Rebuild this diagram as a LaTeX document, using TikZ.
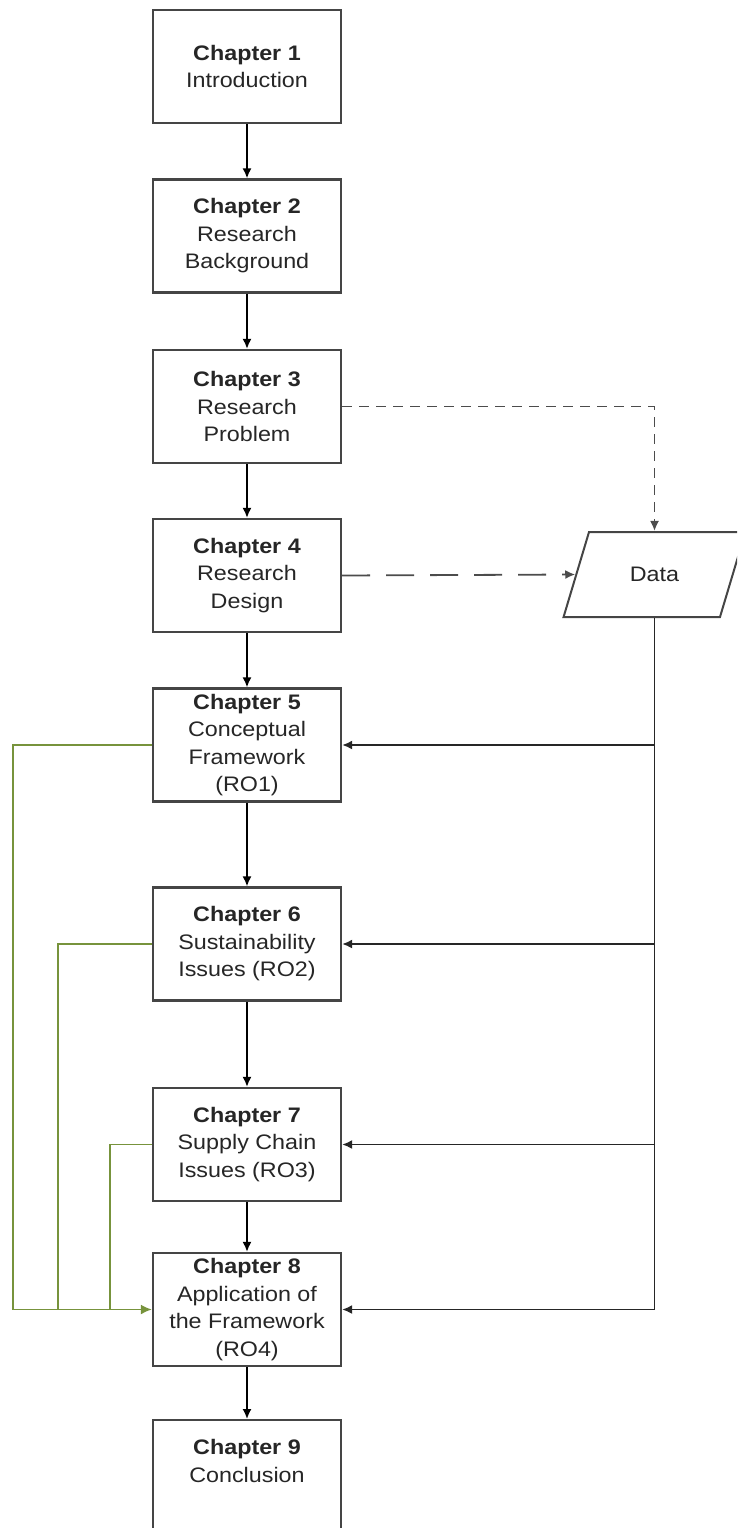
\documentclass[tikz,border=0pt]{standalone}
\usepackage{fontspec}
\setmainfont{Liberation Sans}[FakeStretch=1.11]
\usetikzlibrary{arrows.meta,shapes.geometric}
\definecolor{boxline}{HTML}{454545}
\definecolor{olive}{HTML}{77933C}
\definecolor{txt}{HTML}{262626}
\begin{document}
\begin{tikzpicture}[x=1pt,y=-1pt,
  chap/.style={draw=boxline, line width=2.3pt, fill=white, rectangle,
    minimum width=188pt, minimum height=113pt, inner sep=2pt, align=center,
    text=txt, font=\fontsize{21}{27.5}\selectfont},
  flow/.style={draw=black, line width=1.7pt, -{Latex[length=10pt,width=9pt]}},
  feed/.style={draw=black!85, line width=1.7pt, -{Latex[length=10pt,width=9pt]}},
  shortdash/.style={draw=black!70, line width=1.8pt, dash pattern=on 10pt off 7pt,
    -{Latex[length=10pt,width=9pt]}},
  longdash/.style={draw=black!70, line width=1.8pt, dash pattern=on 28pt off 16pt,
    -{Latex[length=10pt,width=9pt]}},
  loop/.style={draw=olive, line width=1.8pt},
  loopend/.style={draw=olive, line width=1.8pt, -{Latex[length=11pt,width=10pt]}},
  databox/.style={draw=boxline, line width=2pt, trapezium,
    trapezium left angle=63, trapezium right angle=117, trapezium stretches=true,
    minimum width=183pt, minimum height=85pt, text=txt,
    font=\fontsize{21}{27.5}\selectfont}]
\useasboundingbox (0,0) rectangle (737,1528);
\clip (0,0) rectangle (737,1528);

% chapter boxes
\node[chap] (ch1) at (247,66.5)  {\textbf{Chapter 1}\\Introduction};
\node[chap] (ch2) at (247,236)   {\textbf{Chapter 2}\\Research\\Background};
\node[chap] (ch3) at (247,406.5) {\textbf{Chapter 3}\\Research\\Problem};
\node[chap] (ch4) at (247,575.5) {\textbf{Chapter 4}\\Research\\Design};
\node[chap] (ch5) at (247,745)   {\textbf{Chapter 5}\\Conceptual\\Framework\\(RO1)};
\node[chap] (ch6) at (247,944)   {\textbf{Chapter 6}\\Sustainability\\Issues (RO2)};
\node[chap] (ch7) at (247,1144.5){\textbf{Chapter 7}\\Supply Chain\\Issues (RO3)};
\node[chap] (ch8) at (247,1309.5){\textbf{Chapter 8}\\Application of\\the Framework\\(RO4)};
\node[chap, anchor=north, minimum height=136pt] (ch9) at (247,1419)
  {\textbf{Chapter 9}\\Conclusion\\\mbox{}\\\mbox{}};

% data source
\node[databox] (data) at (654.5,574.5) {Data};

% main chapter sequence
\draw[flow] (ch1) -- (ch2);
\draw[flow] (ch2) -- (ch3);
\draw[flow] (ch3) -- (ch4);
\draw[flow] (ch4) -- (ch5);
\draw[flow] (ch5) -- (ch6);
\draw[flow] (ch6) -- (ch7);
\draw[flow] (ch7) -- (ch8);
\draw[flow] (ch8) -- (ch9);

% inputs to the data
\draw[shortdash] (ch3.east) -| (data.center |- data.north);
\draw[longdash] (ch4.east) -- (data.west);

% data feeding chapters 5 to 8
\draw[feed] (data.center |- data.south) |- (ch8.east);
\draw[feed] (data.center |- ch5.east) -- (ch5.east);
\draw[feed] (data.center |- ch6.east) -- (ch6.east);
\draw[feed] (data.center |- ch7.east) -- (ch7.east);

% research objectives feeding the application chapter
\coordinate (bus5) at (13,1309.5);
\coordinate (bus6) at (58,1309.5);
\coordinate (bus7) at (110,1309.5);
\draw[loopend] (ch5.west) -| (bus5) -- (ch8.west);
\draw[loop] (ch6.west) -| (bus6);
\draw[loop] (ch7.west) -| (bus7);
\end{tikzpicture}
\end{document}
